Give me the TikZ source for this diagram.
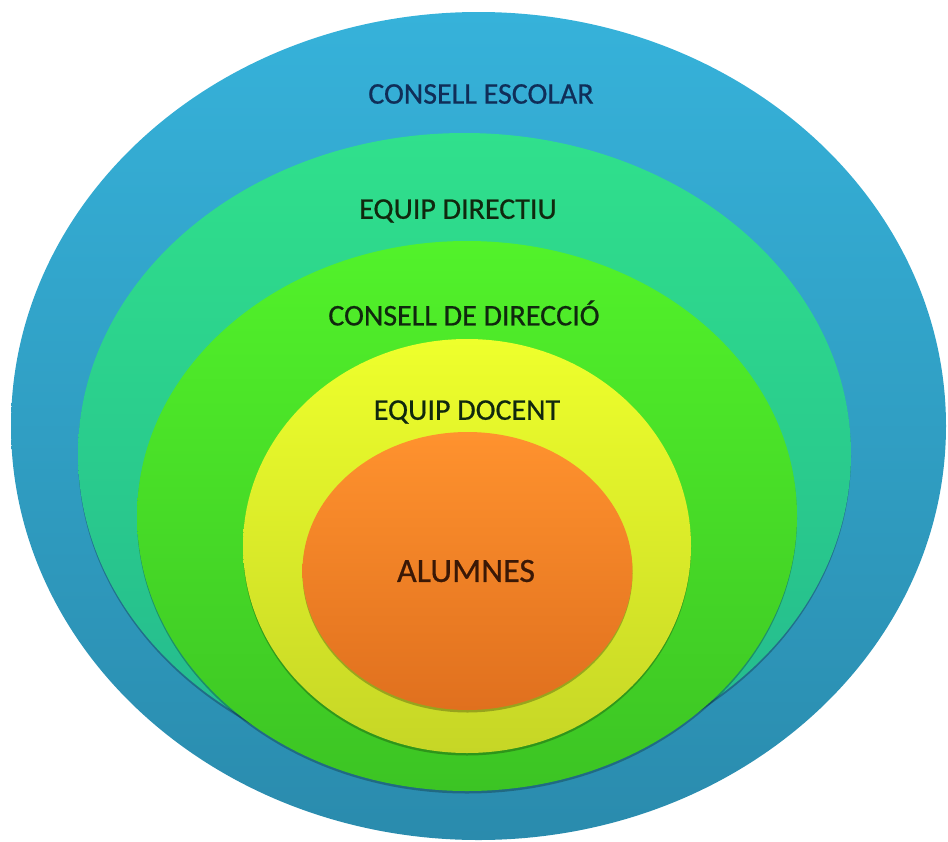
\documentclass[tikz,border=0pt]{standalone}
\usepackage{fontspec}
\setmainfont{Carlito}[FakeBold=0.6]
\usetikzlibrary{shapes.geometric,shadows}
\definecolor{blueT}{HTML}{36B2DA}
\definecolor{blueB}{HTML}{2A8BAD}
\definecolor{tealT}{HTML}{30E08C}
\definecolor{tealB}{HTML}{24B88E}
\definecolor{greenT}{HTML}{52F22A}
\definecolor{greenB}{HTML}{3CC424}
\definecolor{yellowT}{HTML}{EEFF2C}
\definecolor{yellowB}{HTML}{C6D626}
\definecolor{orangeT}{HTML}{FF922E}
\definecolor{orangeB}{HTML}{E0701E}
\definecolor{txtBlue}{HTML}{102E58}
\definecolor{txtDark}{HTML}{10280E}
\definecolor{txtBrown}{HTML}{3A1806}
\begin{document}
\begin{tikzpicture}[x=1pt,y=-1pt,
  layer/.style={ellipse, inner sep=0pt, draw=none},
  shade/.style={drop shadow={shadow xshift=0pt, shadow yshift=-2.5pt, opacity=0.25, fill=black}},
  lbl/.style={font=\fontsize{30}{35}\selectfont, inner sep=0pt}]
\useasboundingbox (0,0) rectangle (948,841);
\node[layer, minimum width=935pt, minimum height=828pt, top color=blueT, bottom color=blueB] (escolar) at (478.5,426) {};
\node[layer, shade, minimum width=773pt, minimum height=642pt, top color=tealT, bottom color=tealB] (directiu) at (464.5,454) {};
\node[layer, shade, minimum width=660pt, minimum height=550pt, top color=greenT, bottom color=greenB] (direccio) at (467,516) {};
\node[layer, shade, minimum width=448pt, minimum height=414pt, top color=yellowT, bottom color=yellowB] (docent) at (467,546) {};
\node[layer, shade, minimum width=330pt, minimum height=278pt, top color=orangeT, bottom color=orangeB] (alumnes) at (467.5,571) {};
\node[lbl, text=txtBlue] (tescolar) at (481,94) {CONSELL ESCOLAR};
\node[lbl, text=txtDark] (tdirectiu) at (458,211) {EQUIP DIRECTIU};
\node[lbl, text=txtDark] (tdireccio) at (464,313) {CONSELL DE DIRECCIÓ};
\node[lbl, text=txtDark] (tdocent) at (467,412) {EQUIP DOCENT};
\node[lbl, text=txtBrown, font=\fontsize{34}{40}\selectfont] (talumnes) at (466,571) {ALUMNES};
\end{tikzpicture}
\end{document}
